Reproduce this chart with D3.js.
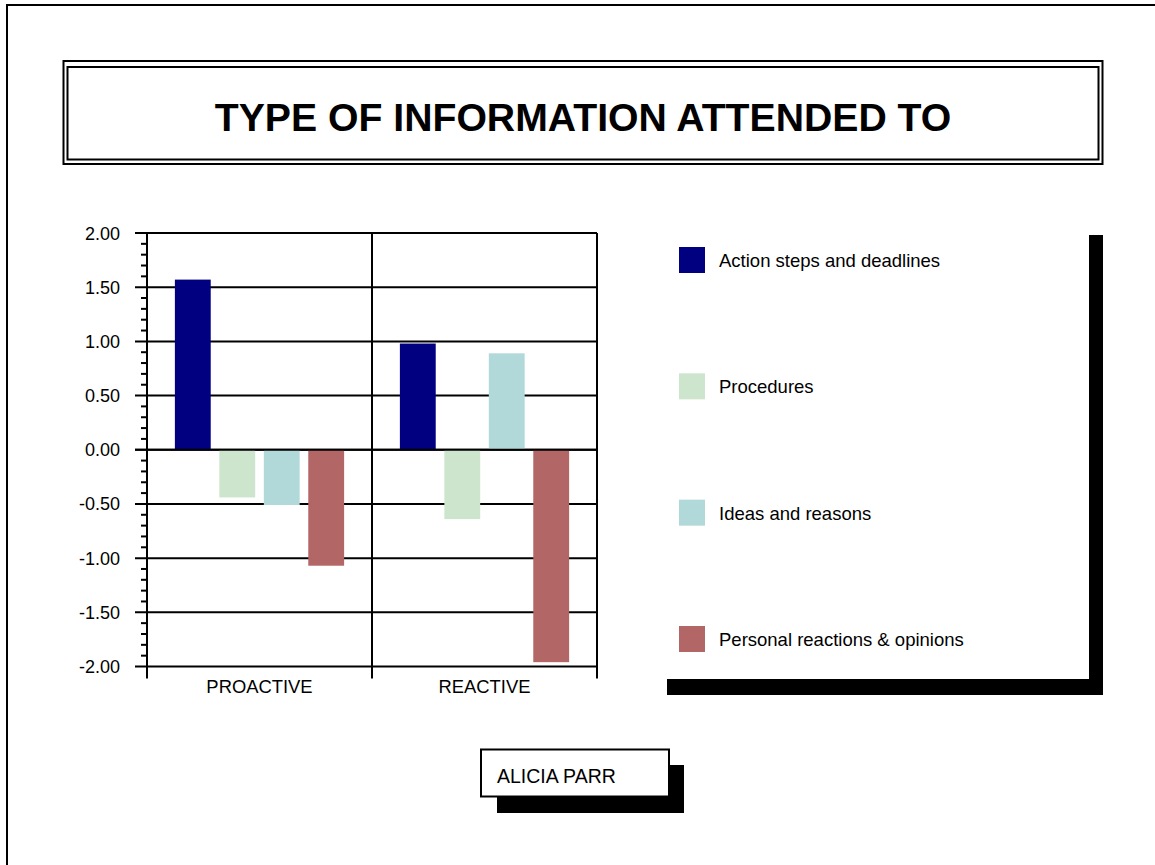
<!DOCTYPE html>
<html>
<head>
<meta charset="utf-8">
<script src="https://cdn.jsdelivr.net/npm/d3@7"></script>
<style>
  html, body { margin: 0; padding: 0; background: #fff; }
  svg { display: block; font-family: "Liberation Sans", Arial, sans-serif; }
</style>
</head>
<body>
<svg id="chart" width="1155" height="865"></svg>
<script>
// Groups along the x axis
const categories = ["PROACTIVE", "REACTIVE"];
// Series names (legend order)
const seriesNames = [
  "Action steps and deadlines",
  "Procedures",
  "Ideas and reasons",
  "Personal reactions & opinions"
];
const seriesColors = ["#000080", "#cce5cc", "#b2d9d9", "#b26666"];
// Values per series, one entry per category
const actionSteps = [1.57, 0.98];
const procedures = [-0.44, -0.64];
const ideasReasons = [-0.51, 0.89];
const personalReactions = [-1.07, -1.96];
// Y axis ticks
const yTicks = [2.0, 1.5, 1.0, 0.5, 0.0, -0.5, -1.0, -1.5, -2.0];
const titleText = "TYPE OF INFORMATION ATTENDED TO";
const authorText = "ALICIA PARR";

const seriesValues = [actionSteps, procedures, ideasReasons, personalReactions];
const rows = [];
categories.forEach((c, ci) => {
  seriesNames.forEach((s, si) => rows.push({ cat: c, series: s, si, value: seriesValues[si][ci] }));
});

// Tick format with a plain hyphen for negatives
const fmt = d3.formatLocale({ decimal: ".", thousands: ",", grouping: [3], currency: ["", ""], minus: "-" }).format(".2f");

const svg = d3.select("#chart");

// Page frame
svg.append("rect").attr("x", 7).attr("y", 5).attr("width", 1300).attr("height", 1000)
  .attr("fill", "none").attr("stroke", "#000").attr("stroke-width", 2);

// Title box (double border)
svg.append("rect").attr("x", 63.5).attr("y", 61).attr("width", 1039).attr("height", 103)
  .attr("fill", "none").attr("stroke", "#000").attr("stroke-width", 2);
svg.append("rect").attr("x", 67.5).attr("y", 67).attr("width", 1031).attr("height", 92.5)
  .attr("fill", "none").attr("stroke", "#000").attr("stroke-width", 2);
svg.append("text").attr("x", 583).attr("y", 131).attr("text-anchor", "middle")
  .attr("font-size", 39.2).attr("font-weight", "bold").attr("fill", "#000").text(titleText);

// Plot area
const plotLeft = 147, plotRight = 597, plotTop = 233, plotBottom = 666.5;
const x0 = d3.scaleBand().domain(categories).range([plotLeft, plotRight]).paddingInner(0).paddingOuter(0);
const x1 = d3.scaleBand().domain(seriesNames).range([0, x0.bandwidth()])
  .paddingInner(0.194).paddingOuter(0.627);
const y = d3.scaleLinear().domain([-2, 2]).range([plotBottom, plotTop]);

const plot = svg.append("g");

// Horizontal gridlines with major ticks extending left of the axis
plot.append("g").selectAll("line").data(yTicks).join("line")
  .attr("x1", plotLeft - 12).attr("x2", plotRight)
  .attr("y1", d => y(d)).attr("y2", d => y(d))
  .attr("stroke", "#000").attr("stroke-width", 2);

// Minor ticks every 0.1
const minor = d3.range(-20, 21).map(d => d / 10).filter(d => Math.abs(d * 2 - Math.round(d * 2)) > 1e-6);
plot.append("g").selectAll("line").data(minor).join("line")
  .attr("x1", plotLeft - 6).attr("x2", plotLeft)
  .attr("y1", d => y(d)).attr("y2", d => y(d))
  .attr("stroke", "#000").attr("stroke-width", 2);

// Y tick labels
plot.append("g").selectAll("text").data(yTicks).join("text")
  .attr("x", plotLeft - 27).attr("y", d => y(d) + 6.5)
  .attr("text-anchor", "end").attr("font-size", 18).attr("fill", "#000")
  .text(d => fmt(d));

// Vertical lines: axis, category divider, right edge (extend below as ticks)
const vlines = [plotLeft, ...categories.slice(1).map(c => x0(c)), plotRight];
plot.append("g").selectAll("line").data(vlines).join("line")
  .attr("x1", d => d).attr("x2", d => d)
  .attr("y1", plotTop).attr("y2", plotBottom + 12)
  .attr("stroke", "#000").attr("stroke-width", 2);

// Bars
plot.append("g").selectAll("rect").data(rows).join("rect")
  .attr("x", d => x0(d.cat) + x1(d.series))
  .attr("width", x1.bandwidth())
  .attr("y", d => y(Math.max(0, d.value)))
  .attr("height", d => Math.abs(y(d.value) - y(0)))
  .attr("fill", d => seriesColors[d.si]);

// Redraw the zero line over bars
plot.append("line").attr("x1", plotLeft - 12).attr("x2", plotRight)
  .attr("y1", y(0)).attr("y2", y(0)).attr("stroke", "#000").attr("stroke-width", 2);

// Category labels
plot.append("g").selectAll("text").data(categories).join("text")
  .attr("x", d => x0(d) + x0.bandwidth() / 2).attr("y", 693)
  .attr("text-anchor", "middle").attr("font-size", 18.4).attr("fill", "#000")
  .text(d => d);

// Legend shadow
svg.append("rect").attr("x", 1089).attr("y", 235).attr("width", 14).attr("height", 460).attr("fill", "#000");
svg.append("rect").attr("x", 667).attr("y", 679).attr("width", 436).attr("height", 16).attr("fill", "#000");

// Legend entries
const legendY = d3.scalePoint().domain(seriesNames).range([260, 639]);
const legend = svg.append("g").selectAll("g").data(seriesNames).join("g")
  .attr("transform", d => `translate(0,${legendY(d)})`);
legend.append("rect").attr("x", 679).attr("y", -13).attr("width", 26).attr("height", 26)
  .attr("fill", (d, i) => seriesColors[i]);
legend.append("text").attr("x", 719).attr("y", 7).attr("font-size", 18.5).attr("fill", "#000")
  .text(d => d);

// Author box with shadow
svg.append("rect").attr("x", 497).attr("y", 765).attr("width", 187).attr("height", 48).attr("fill", "#000");
svg.append("rect").attr("x", 481).attr("y", 749.5).attr("width", 188).attr("height", 47)
  .attr("fill", "#fff").attr("stroke", "#000").attr("stroke-width", 2);
svg.append("text").attr("x", 497).attr("y", 782.5).attr("font-size", 19.5).attr("fill", "#000").text(authorText);
</script>
</body>
</html>
